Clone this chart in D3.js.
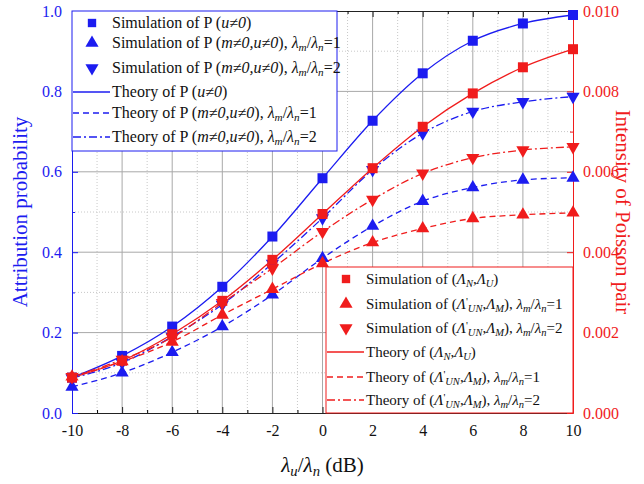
<!DOCTYPE html>
<html>
<head>
<meta charset="utf-8">
<script src="https://cdn.jsdelivr.net/npm/d3@7"></script>
<style>
  body { margin: 0; background: #fff; }
</style>
</head>
<body>
<svg id="chart" width="644" height="484"></svg>
<script>
// x values (dB)
var xVals = [-10, -8, -6, -4, -2, 0, 2, 4, 6, 8, 10];

// left axis: attribution probability
var pU  = [0.088, 0.142, 0.215, 0.314, 0.439, 0.584, 0.727, 0.845, 0.926, 0.969, 0.990];
var pM1 = [0.065, 0.100, 0.151, 0.215, 0.294, 0.385, 0.465, 0.527, 0.561, 0.580, 0.585];
var pM2 = [0.087, 0.125, 0.190, 0.270, 0.372, 0.485, 0.605, 0.696, 0.750, 0.774, 0.787];

// right axis: intensity of Poisson pair
var lamNU = [0.00088, 0.00130, 0.00196, 0.00279, 0.00381, 0.00495, 0.00609, 0.00712, 0.00795, 0.00860, 0.00905];
var lamM1 = [0.00090, 0.00128, 0.00177, 0.00244, 0.00308, 0.00372, 0.00424, 0.00459, 0.00484, 0.00493, 0.00498];
var lamM2 = [0.00090, 0.00133, 0.00188, 0.00274, 0.00360, 0.00451, 0.00531, 0.00596, 0.00635, 0.00654, 0.00662];

var xTicks = [-10, -8, -6, -4, -2, 0, 2, 4, 6, 8, 10];
var leftTicks = [0.0, 0.2, 0.4, 0.6, 0.8, 1.0];
var rightTicks = [0.000, 0.002, 0.004, 0.006, 0.008, 0.010];

var blue = "#1c1cf0";
var red = "#f01c1c";
var serif = "'Liberation Serif', 'DejaVu Serif', serif";

var margin = {left: 72, right: 71, top: 11, bottom: 71};
var W = 644, H = 484;
var iw = W - margin.left - margin.right;
var ih = H - margin.top - margin.bottom;

var svg = d3.select("#chart").style("font-family", serif);
var g = svg.append("g").attr("transform", "translate(" + margin.left + "," + margin.top + ")");

var x = d3.scaleLinear().domain([-10, 10]).range([0, iw]);
var yL = d3.scaleLinear().domain([0, 1]).range([ih, 0]);
var yR = d3.scaleLinear().domain([0, 0.01]).range([ih, 0]);

// grid - minor dotted, major solid
var minorX = d3.range(-9, 10, 2);
var minorY = d3.range(0.1, 1, 0.2);
g.selectAll(".gxm").data(minorX).join("line")
  .attr("x1", d => x(d)).attr("x2", d => x(d)).attr("y1", 0).attr("y2", ih)
  .attr("stroke", "#c8c8c8").attr("stroke-dasharray", "1,2");
g.selectAll(".gym").data(minorY).join("line")
  .attr("y1", d => yL(d)).attr("y2", d => yL(d)).attr("x1", 0).attr("x2", iw)
  .attr("stroke", "#c8c8c8").attr("stroke-dasharray", "1,2");
g.selectAll(".gx").data(xTicks.slice(1, -1)).join("line")
  .attr("x1", d => x(d)).attr("x2", d => x(d)).attr("y1", 0).attr("y2", ih)
  .attr("stroke", "#a8a8a8");
g.selectAll(".gy").data(leftTicks.slice(1, -1)).join("line")
  .attr("y1", d => yL(d)).attr("y2", d => yL(d)).attr("x1", 0).attr("x2", iw)
  .attr("stroke", "#a8a8a8");

// axes
var axB = g.append("g").attr("transform", "translate(0," + ih + ")")
  .call(d3.axisBottom(x).tickValues(xTicks).tickFormat(d => String(d)).tickSizeInner(-6).tickSizeOuter(0).tickPadding(12));
axB.attr("font-family", serif);
axB.selectAll("text").attr("font-size", 16).attr("fill", "#111");
axB.select(".domain").attr("stroke", "#222");
axB.selectAll(".tick line").attr("stroke", "#222");
var axBm = g.append("g").attr("transform", "translate(0," + ih + ")")
  .call(d3.axisBottom(x).tickValues(minorX).tickSize(-3).tickFormat(""));
axBm.select(".domain").remove();

var axT = g.append("g")
  .call(d3.axisTop(x).tickValues(xTicks).tickSizeInner(-6).tickSizeOuter(0).tickFormat(""));
axT.selectAll("line,path").attr("stroke", "#222");
g.append("g").call(d3.axisTop(x).tickValues(minorX).tickSize(-3).tickFormat("")).select(".domain").remove();

var axL = g.append("g")
  .call(d3.axisLeft(yL).tickValues(leftTicks).tickFormat(d3.format(".1f")).tickSizeInner(-6).tickSizeOuter(0).tickPadding(10));
axL.attr("font-family", serif);
axL.selectAll("text").attr("font-size", 16).attr("fill", blue);
axL.selectAll("line,path").attr("stroke", blue);
var axLm = g.append("g").call(d3.axisLeft(yL).tickValues(minorY).tickSize(-3).tickFormat(""));
axLm.select(".domain").remove();
axLm.selectAll("line").attr("stroke", blue);

var axR = g.append("g").attr("transform", "translate(" + iw + ",0)")
  .call(d3.axisRight(yR).tickValues(rightTicks).tickFormat(d3.format(".3f")).tickSizeInner(-6).tickSizeOuter(0).tickPadding(10));
axR.attr("font-family", serif);
axR.selectAll("text").attr("font-size", 16).attr("fill", red);
axR.selectAll("line,path").attr("stroke", red);
var axRm = g.append("g").attr("transform", "translate(" + iw + ",0)")
  .call(d3.axisRight(yR).tickValues(minorY.map(v => v / 100)).tickSize(-3).tickFormat(""));
axRm.select(".domain").remove();
axRm.selectAll("line").attr("stroke", red);

// series
var series = [
  {vals: pU,    y: yL, color: blue, dash: null,        sym: d3.symbolSquare,   rot: 0},
  {vals: pM1,   y: yL, color: blue, dash: "6,4",       sym: d3.symbolTriangle, rot: 0},
  {vals: pM2,   y: yL, color: blue, dash: "8,3,2,3",   sym: d3.symbolTriangle, rot: 180},
  {vals: lamNU, y: yR, color: red,  dash: null,        sym: d3.symbolSquare,   rot: 0},
  {vals: lamM1, y: yR, color: red,  dash: "6,4",       sym: d3.symbolTriangle, rot: 0},
  {vals: lamM2, y: yR, color: red,  dash: "8,3,2,3",   sym: d3.symbolTriangle, rot: 180}
];

series.forEach(function(s) {
  var line = d3.line().x((d, i) => x(xVals[i])).y(d => s.y(d)).curve(d3.curveMonotoneX);
  g.append("path").datum(s.vals)
    .attr("d", line)
    .attr("fill", "none")
    .attr("stroke", s.color)
    .attr("stroke-width", 1.3)
    .attr("stroke-dasharray", s.dash);
});
series.forEach(function(s) {
  var size = s.sym === d3.symbolSquare ? 100 : 75;
  g.selectAll(null).data(s.vals).join("path")
    .attr("d", d3.symbol().type(s.sym).size(size)())
    .attr("transform", (d, i) => "translate(" + x(xVals[i]) + "," + s.y(d) + ") rotate(" + s.rot + ")")
    .attr("fill", s.color);
});

// rich text helper: segments of [text, style]
function richText(sel, segs, size) {
  segs.forEach(function(s) {
    var t = sel.append("tspan").text(s[0]);
    var st = s[1] || "";
    if (st.indexOf("i") >= 0) t.attr("font-style", "italic");
    if (st.indexOf("b") >= 0) t.attr("font-size", size * 0.7).attr("baseline-shift", "-25%");
    if (st.indexOf("p") >= 0) t.attr("font-size", size * 0.7).attr("baseline-shift", "40%");
  });
}
var ratio = function(n) {
  return [[", "], ["\u03bb", "i"], ["m", "ib"], ["/"], ["\u03bb", "i"], ["n", "ib"], ["=" + n]];
};
var blueLabels = [
  [["Simulation of P ("], ["u\u22600", "i"], [")"]],
  [["Simulation of P ("], ["m\u22600,u\u22600", "i"], [")"]].concat(ratio(1)),
  [["Simulation of P ("], ["m\u22600,u\u22600", "i"], [")"]].concat(ratio(2)),
  [["Theory of P ("], ["u\u22600", "i"], [")"]],
  [["Theory of P ("], ["m\u22600,u\u22600", "i"], [")"]].concat(ratio(1)),
  [["Theory of P ("], ["m\u22600,u\u22600", "i"], [")"]].concat(ratio(2))
];
var lamNUSeg = [["("], ["\u039b", "i"], ["N", "ib"], [","], ["\u039b", "i"], ["U", "ib"], [")"]];
var lamMSeg = [["("], ["\u039b", "i"], ["'", "p"], ["UN", "ib"], [","], ["\u039b", "i"], ["M", "ib"], [")"]];
var redLabels = [
  [["Simulation of "]].concat(lamNUSeg),
  [["Simulation of "]].concat(lamMSeg, ratio(1)),
  [["Simulation of "]].concat(lamMSeg, ratio(2)),
  [["Theory of "]].concat(lamNUSeg),
  [["Theory of "]].concat(lamMSeg, ratio(1)),
  [["Theory of "]].concat(lamMSeg, ratio(2))
];

function drawLegend(x0, y0, w, h, rows, labels, col, items, fs) {
  var lg = svg.append("g").attr("transform", "translate(" + x0 + "," + y0 + ")");
  lg.append("rect").attr("width", w).attr("height", h)
    .attr("fill", "#fff").attr("stroke", col).attr("stroke-width", 1);
  items.forEach(function(s, i) {
    var yy = rows[i];
    if (i < 3) {
      var size = s.sym === d3.symbolSquare ? 70 : 75;
      lg.append("path").attr("d", d3.symbol().type(s.sym).size(size)())
        .attr("transform", "translate(20," + yy + ") rotate(" + s.rot + ")")
        .attr("fill", col);
    } else {
      lg.append("line").attr("x1", 1).attr("x2", 38).attr("y1", yy).attr("y2", yy)
        .attr("stroke", col).attr("stroke-width", 1.3).attr("stroke-dasharray", s.dash);
    }
    var t = lg.append("text").attr("x", 40).attr("y", yy + 5).attr("font-size", fs).attr("fill", "#111");
    richText(t, labels[i], fs);
  });
}
drawLegend(72, 11, 265, 140, [12, 32, 57, 81, 102, 126], blueLabels, blue,
  [series[0], series[1], series[2], series[0], series[1], series[2]], 16);
drawLegend(326, 267, 247, 146, [12, 37, 61, 85, 110, 133], redLabels, red,
  [series[3], series[4], series[5], series[3], series[4], series[5]], 15);

// axis titles
svg.append("text").attr("transform", "translate(27," + (margin.top + ih / 2) + ") rotate(-90)")
  .attr("text-anchor", "middle").attr("font-size", 21).attr("fill", blue)
  .text("Attribution probability");
svg.append("text").attr("transform", "translate(616," + (margin.top + ih / 2) + ") rotate(90)")
  .attr("text-anchor", "middle").attr("font-size", 21).attr("fill", red)
  .text("Intensity of Poisson pair");
var xt = svg.append("text").attr("x", margin.left + iw / 2).attr("y", 472)
  .attr("text-anchor", "middle").attr("font-size", 21).attr("fill", "#111");
richText(xt, [["\u03bb", "i"], ["u", "ib"], ["/"], ["\u03bb", "i"], ["n", "ib"], [" (dB)"]], 21);
</script>
</body>
</html>
